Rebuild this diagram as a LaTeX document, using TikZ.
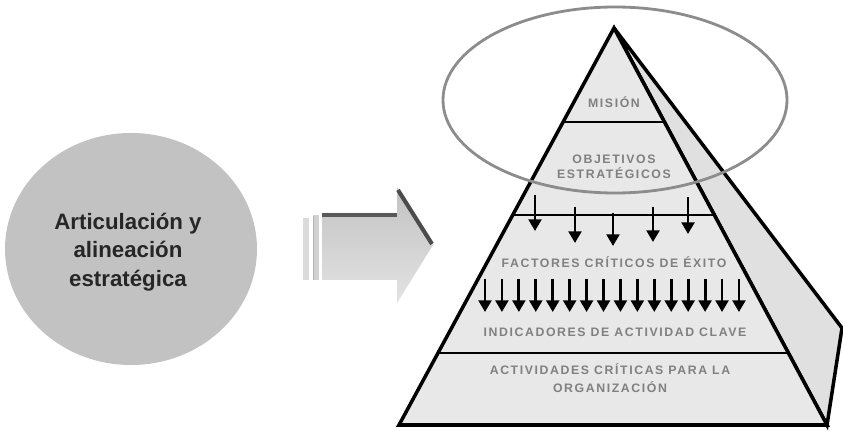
\documentclass[tikz,border=0pt]{standalone}
\usepackage{fontspec}
\setmainfont{Liberation Sans}
\newfontfamily\capsfont[LetterSpace=13]{Liberation Sans}
\usetikzlibrary{arrows.meta,shapes.geometric,calc}
\definecolor{discgray}{gray}{0.76}
\definecolor{facegray}{gray}{0.91}
\definecolor{sidegray}{gray}{0.88}
\definecolor{labelgray}{gray}{0.5}
\definecolor{ringgray}{gray}{0.55}
\tikzset{
  layer/.style={text=labelgray,font=\capsfont\bfseries\fontsize{10.5}{13}\selectfont,align=center,inner sep=0},
  drop/.style={line width=2.4pt,-{Triangle[length=10pt,width=11pt]}},
  edge/.style={line width=3pt,line join=miter},
}
\begin{document}
\begin{tikzpicture}[x=0.03cm,y=-0.03cm]
\useasboundingbox (0,0) rectangle (843,431);

% disc on the left
\node[ellipse,fill=discgray,minimum width=7.56cm,minimum height=6.96cm,inner sep=0] (disc) at (131,249) {};
\node[align=center,font=\bfseries\fontsize{19}{24.5}\selectfont,text=black!85] (disctext) at (128,252) {Articulación y\\alineación\\estratégica};

% block arrow
\shade[top color=gray!48,bottom color=gray!22] (322,213) -- (397,213) -- (397,187) -- (433,245) -- (397,303) -- (397,280) -- (322,280) -- cycle;
\fill[gray!28] (303,218) rectangle (309,280);
\fill[gray!36] (313,215) rectangle (319,280);
\draw[gray!60,line width=1.2pt] (313.5,216) -- (313.5,280);
\draw[black!65,line width=3.5pt] (322,215) -- (397,215);
\draw[black!70,line width=3.5pt] (398,190) -- (432,244);

% pyramid
\coordinate (apex) at (614,28);
\coordinate (bl) at (399,425);
\coordinate (br) at (827,425);
\coordinate (back) at (842,328);
\filldraw[edge,fill=sidegray] (apex) -- (back) -- (br) -- cycle;
\filldraw[edge,fill=facegray] (apex) -- (bl) -- (br) -- cycle;
\draw[line width=2.2pt] ($(apex)!0.237!(bl)$) -- ($(apex)!0.237!(br)$);
\draw[line width=2.2pt] ($(apex)!0.471!(bl)$) -- ($(apex)!0.471!(br)$);
\draw[line width=2.2pt] ($(apex)!0.819!(bl)$) -- ($(apex)!0.819!(br)$);

\node[layer] (mision) at (614,102) {MISIÓN};
\node[layer] (objetivos) at (614,167) {OBJETIVOS\\ESTRATÉGICOS};
\node[layer] (factores) at (614,262) {FACTORES CRÍTICOS DE ÉXITO};
\node[layer] (indicadores) at (615,332) {INDICADORES DE ACTIVIDAD CLAVE};
\node[layer,font=\capsfont\bfseries\fontsize{10.5}{15}\selectfont] (actividades) at (610,378) {ACTIVIDADES CRÍTICAS PARA LA\\ORGANIZACIÓN};

% ring round the top
\node[ellipse,draw=ringgray,line width=2.4pt,minimum width=10.32cm,minimum height=5.58cm,inner sep=0] (ring) at (615,100) {};

% arrows
\foreach \x/\ya/\yb in {535/195/231,575/207/243,613/213/246,653/207/242,688/197/234}
  \draw[drop] (\x,\ya) -- (\x,\yb);
\foreach \i in {0,...,15}
  \draw[drop] ({485+16.93*\i},279) -- ({485+16.93*\i},312);

\end{tikzpicture}
\end{document}
